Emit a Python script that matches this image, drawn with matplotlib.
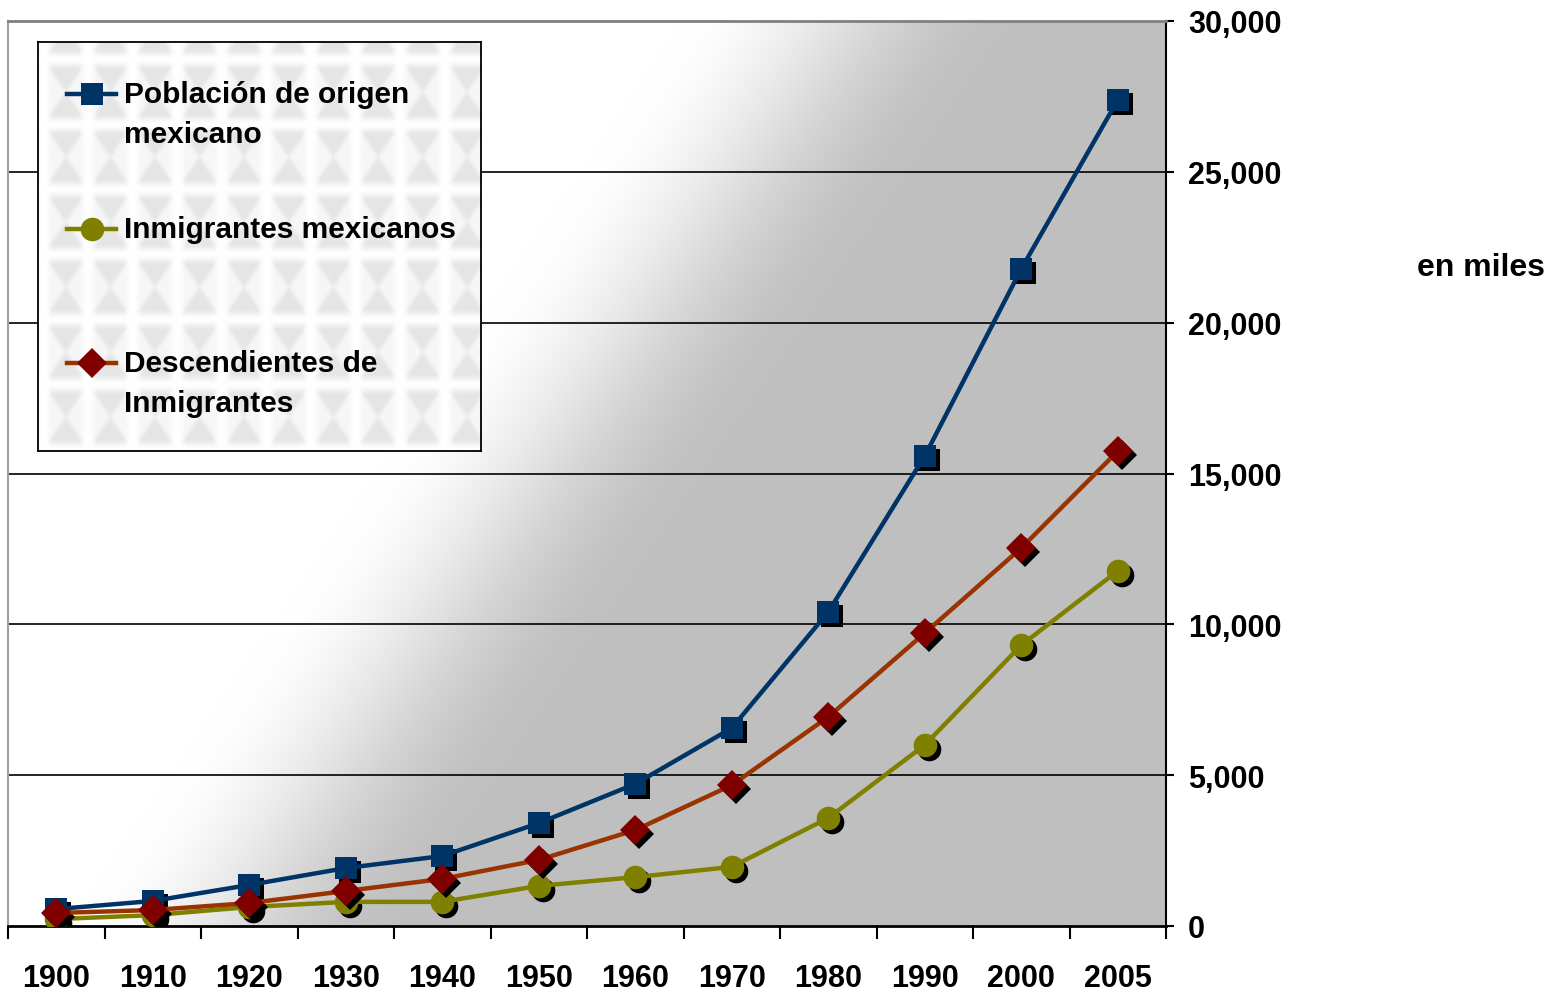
import numpy as np
import matplotlib
matplotlib.use("Agg")
import matplotlib.pyplot as plt
from matplotlib.lines import Line2D
from matplotlib.transforms import ScaledTranslation
from matplotlib.ticker import FixedLocator, NullFormatter, FuncFormatter

# data (thousands)
years = ["1900", "1910", "1920", "1930", "1940", "1950", "1960", "1970",
         "1980", "1990", "2000", "2005"]
poblacion = [560, 830, 1360, 1920, 2320, 3410, 4710, 6560, 10410, 15580, 21780, 27380]
inmigrantes = [230, 360, 630, 800, 800, 1330, 1620, 1960, 3580, 6000, 9310, 11770]
descendientes = [430, 530, 760, 1160, 1560, 2190, 3180, 4670, 6930, 9710, 12530, 15740]

series_labels = ["Población de origen\nmexicano", "Inmigrantes mexicanos",
                 "Descendientes de\nInmigrantes"]

W, H = 1550, 995
font = ["Liberation Sans", "DejaVu Sans"]

fig = plt.figure(figsize=(W / 100, H / 100), dpi=100, facecolor="white")

# plot area in pixels: x 8..1166, y 22..927
x0, x1, y0, y1 = 8, 1166, 22, 927
ax = fig.add_axes([x0 / W, 1 - y1 / H, (x1 - x0) / W, (y1 - y0) / H])

# diagonal white -> grey background
gw, gh = 600, 400
fx = np.linspace(0, 1, gw)[None, :]
fy = np.linspace(1, 0, gh)[:, None]
s = fx * (x1 - x0) - 0.68 * fy * (y1 - y0)
t = np.clip((s - 60) / 330, 0, 1)
t = t * t * (3 - 2 * t)
grey = 0.7529
shade = 1 - t * (1 - grey)
ax.imshow(np.dstack([shade, shade, shade]), extent=[0, 1, 0, 1],
          transform=ax.transAxes, aspect="auto", zorder=0, interpolation="bilinear")

xs = np.arange(len(years))
ax.set_xlim(-0.5, len(years) - 0.5)
ax.set_ylim(0, 30000)

styles = [
    (poblacion, "#003366", "#003366", "s", 15.5),
    (inmigrantes, "#808000", "#808000", "o", 17),
    (descendientes, "#993300", "#800000", "D", 15),
]
shadow = ax.transData + ScaledTranslation(4 / 100, -4 / 100, fig.dpi_scale_trans)
z = 3
for vals, lc, mc, mk, ms in styles:
    ax.plot(xs, vals, linestyle="none", marker=mk, markersize=ms, color="black",
            markeredgewidth=0, transform=shadow, zorder=z)
    ax.plot(xs, vals, color=lc, linewidth=3.2, marker=mk, markersize=ms,
            markerfacecolor=mc, markeredgecolor=mc, markeredgewidth=0, zorder=z + 1)
    z += 2

# grid lines
for v in range(5000, 30000, 5000):
    ax.axhline(v, color="black", linewidth=1.2, zorder=1)

# spines
ax.spines["top"].set_color("#808080")
ax.spines["top"].set_linewidth(2)
ax.spines["left"].set_color("#a0a0a0")
ax.spines["left"].set_linewidth(1.5)
ax.spines["right"].set_color("black")
ax.spines["right"].set_linewidth(1.5)
ax.spines["bottom"].set_color("black")
ax.spines["bottom"].set_linewidth(2)

# y axis on the right
ax.yaxis.tick_right()
ax.set_yticks(range(0, 30001, 5000))
ax.yaxis.set_major_formatter(FuncFormatter(lambda v, p: f"{int(v):,}"))
ax.tick_params(axis="y", which="major", direction="out", length=6, width=1.5,
               pad=10, labelsize=22, left=False)
for lab in ax.get_yticklabels():
    lab.set_fontfamily(font)
    lab.set_fontweight("bold")

# x axis: ticks between categories, labels at centres
ax.xaxis.set_major_locator(FixedLocator(np.arange(-0.5, len(years), 1.0)))
ax.xaxis.set_major_formatter(NullFormatter())
ax.set_xticks(xs, years, minor=True)
ax.tick_params(axis="x", which="major", direction="out", length=9.5, width=1.5)
ax.tick_params(axis="x", which="minor", length=0, pad=27, labelsize=22)
for lab in ax.get_xticklabels(minor=True):
    lab.set_fontfamily(font)
    lab.set_fontweight("bold")

# unit label
fig.text(1481 / W, 1 - 268 / H, "en miles", ha="center", va="center",
         fontsize=23, fontweight="bold", family=font)

# legend box with the faint patterned fill
lx0, ly0, lx1, ly1 = 38, 43, 481, 452
lax = fig.add_axes([lx0 / W, 1 - ly1 / H, (lx1 - lx0) / W, (ly1 - ly0) / H])
lw, lh = lx1 - lx0, ly1 - ly0
px = np.arange(lw)[None, :]
py = np.arange(lh)[:, None]
dx = np.abs(((px - 5) % 44.5) - 22.25) / 22.25
dy = np.abs(((py - 17) % 65) - 32.5) / 32.5


def smooth(v):
    v = np.clip(v, 0, 1)
    return v * v * (3 - 2 * v)


edge = smooth((1 - dx) / 0.45) * smooth((1 - dy) / 0.35)
mix = smooth((dy - dx) / 0.35 + 0.5)
depth = 0.035 + 0.065 * mix
tex = 1 - depth * edge
lax.imshow(np.dstack([tex, tex, tex]), extent=[0, 1, 0, 1], aspect="auto",
           interpolation="bilinear")
lax.set_xlim(0, 1)
lax.set_ylim(0, 1)
lax.set_xticks([])
lax.set_yticks([])
for sp in lax.spines.values():
    sp.set_color("black")
    sp.set_linewidth(1.3)


def lpos(x, y):
    return (x - lx0) / lw, 1 - (y - ly0) / lh


entry_y = [95, 230, 364]
for (vals, lc, mc, mk, ms), label, ey in zip(styles, series_labels, entry_y):
    a, b = lpos(67, ey)
    c, _ = lpos(116, ey)
    lax.add_line(Line2D([a, c], [b, b], color=lc, linewidth=3.2))
    m, _ = lpos(91.5, ey)
    lax.add_line(Line2D([m], [b], marker=mk, markersize=ms, color=mc,
                        markeredgewidth=0))
    for i, line in enumerate(label.split("\n")):
        tx, ty = lpos(124, ey + 40 * i)
        lax.text(tx, ty, line, ha="left", va="center", fontsize=21.5,
                 fontweight="bold", family=font)

fig.savefig("out.png", dpi=100, facecolor="white")
